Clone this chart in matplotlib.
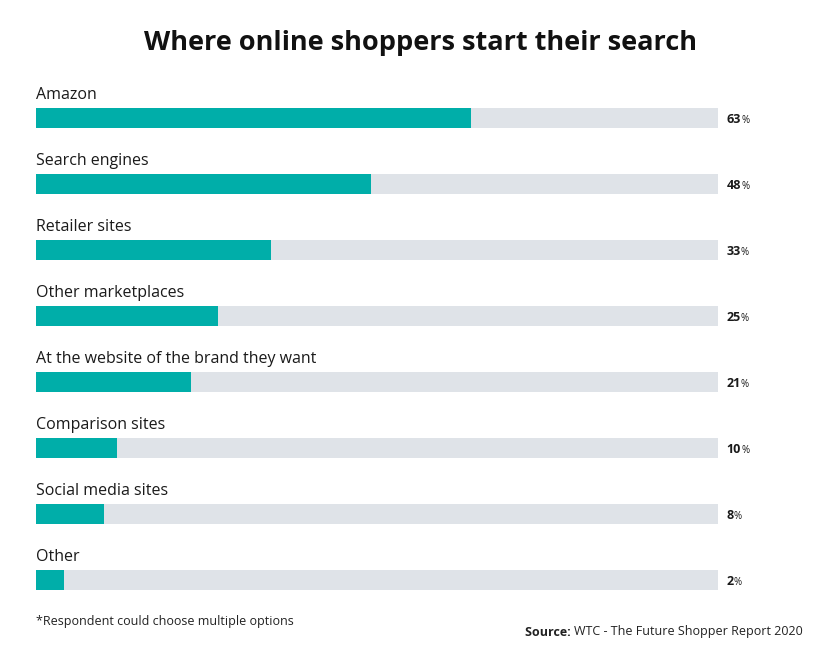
import matplotlib
matplotlib.use("Agg")
import matplotlib.pyplot as plt

categories = ["Amazon", "Search engines", "Retailer sites", "Other marketplaces",
              "At the website of the brand they want", "Comparison sites",
              "Social media sites", "Other"]
values = [63, 48, 33, 25, 21, 10, 8, 2]

plt.rcParams['font.family'] = ['Open Sans', 'DejaVu Sans']
fig = plt.figure(figsize=(8.4, 6.72), dpi=100)
ax = fig.add_axes([36/840, 1-613/672, 682/840, (613-78.4)/672])
start = -2.2
idx = list(range(len(categories)))
ax.barh(idx, [100 - start]*len(idx), left=start, height=0.29, color="#dfe3e8")
ax.barh(idx, [v - start for v in values], left=start, height=0.29, color="#00aea9")
for i, (c, v) in enumerate(zip(categories, values)):
    ax.text(start, i-0.22, c, fontsize=11.5, color="#1a1a1a", va="bottom", ha="left")
    t = ax.text(101.3, i+0.03, f"{v}", fontsize=9, fontweight="bold", va="center", ha="left", color="#1a1a1a")
    ax.annotate("%", xy=(1, 0.05), xycoords=t, fontsize=7, va="bottom", ha="left", color="#1a1a1a")
ax.set_xlim(start, 100)
ax.set_ylim(7.5, -0.6)
ax.axis("off")
fig.text(0.5, 1-43/672, "Where online shoppers start their search", ha="center", va="center",
         fontsize=19.5, fontweight="bold", color="#111111")
fig.text(36/840, 1-622/672, "*Respondent could choose multiple options", fontsize=9, va="center", color="#222222")
s = fig.text(803/840, 1-632/672, "WTC - The Future Shopper Report 2020", fontsize=9,
             va="center", ha="right", color="#222222")
fig.canvas.draw()
fig.text(0, 0, "Source: ", fontsize=9, fontweight="bold", va="center", ha="right", color="#222222",
         transform=fig.transFigure).set_position((s.get_window_extent().x0/840, 1-632/672))
fig.savefig("out.png", dpi=100, facecolor="white")
